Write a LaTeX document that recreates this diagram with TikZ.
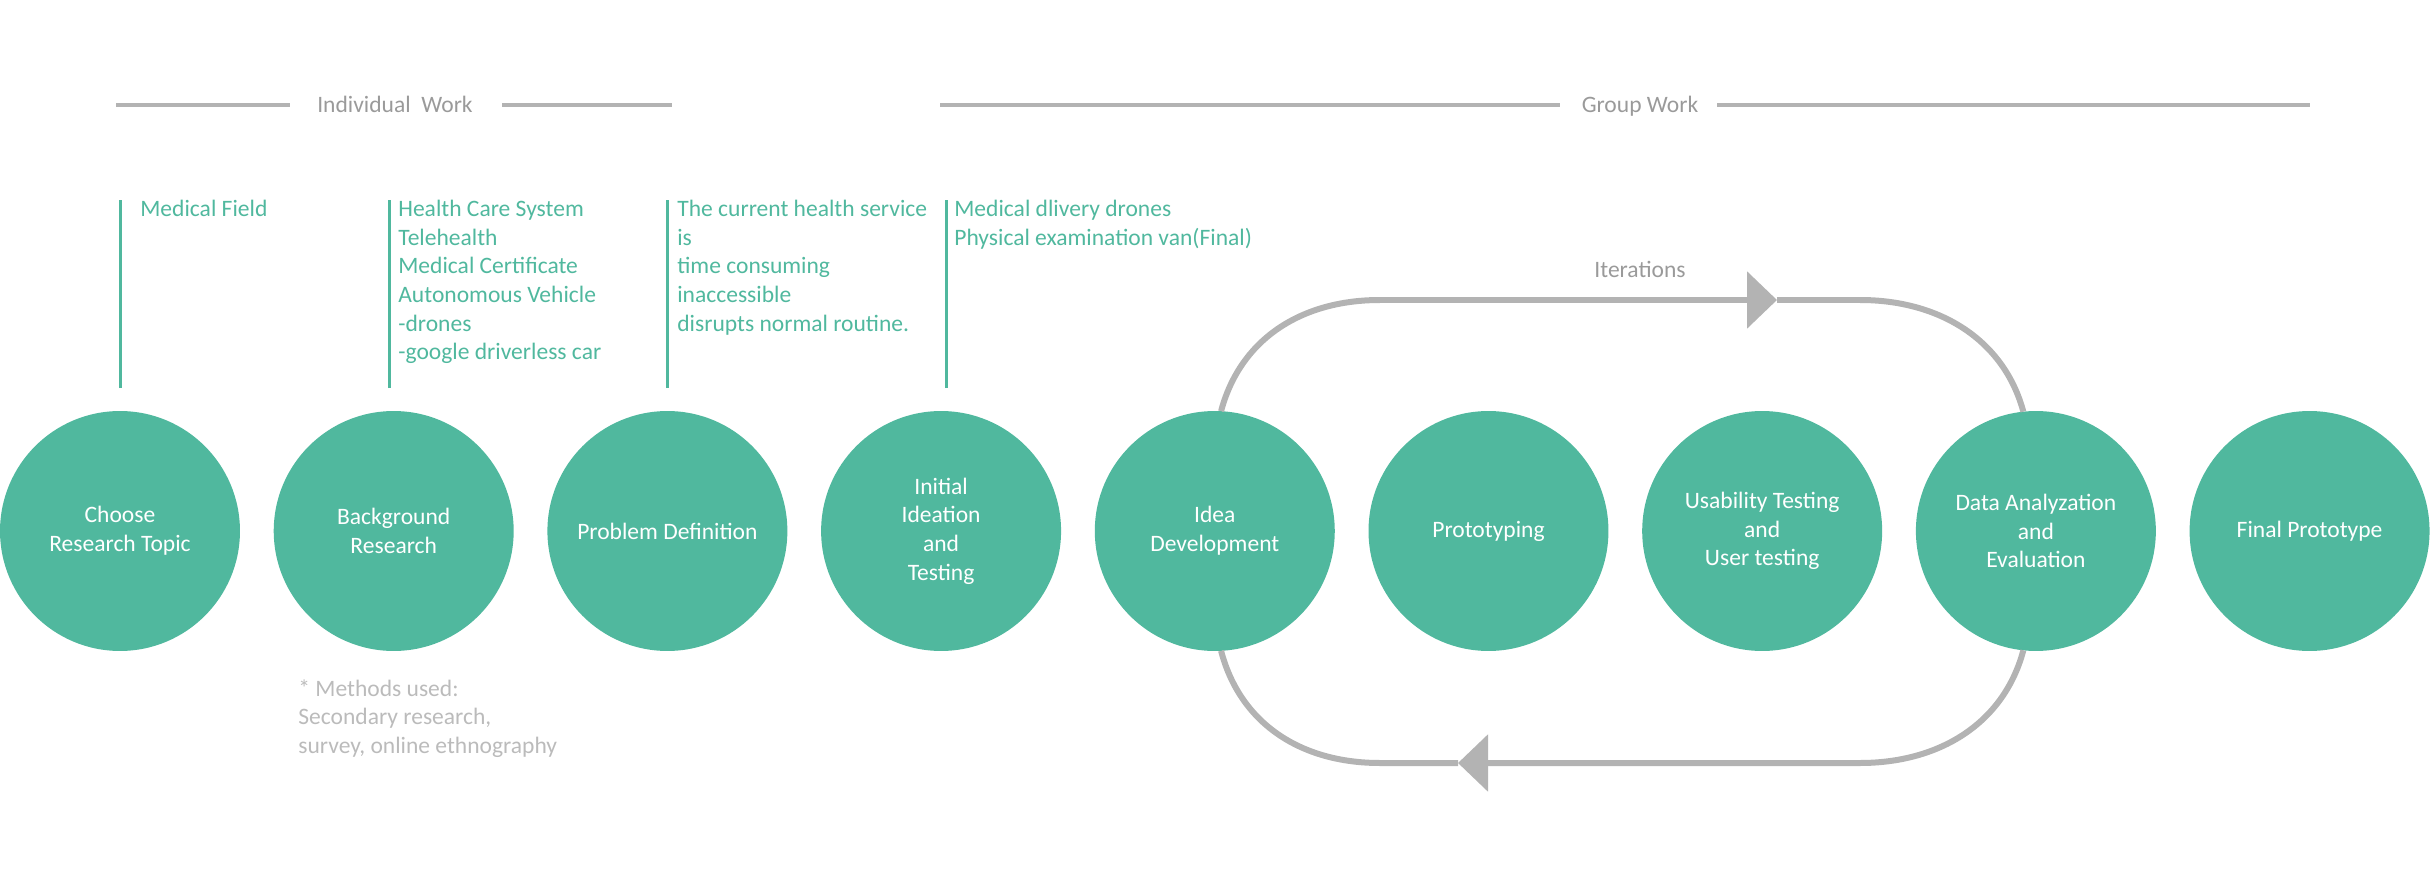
\documentclass[tikz,border=0pt]{standalone}
\usepackage{fontspec}
\setmainfont{Carlito}
\usetikzlibrary{arrows.meta,positioning}
\definecolor{stepgreen}{HTML}{50B89E}
\definecolor{loopgray}{HTML}{B3B3B3}
\definecolor{labelgray}{HTML}{9A9A9A}
\definecolor{methodgray}{HTML}{BBBBBB}

\begin{document}
\begin{tikzpicture}[
  x=0.02cm, y=0.02cm,
  font=\fontsize{13.4}{16.3}\selectfont,
  stagecircle/.style={circle, fill=stepgreen, text=white, align=center,
                      minimum size=4.8cm, inner sep=0pt, outer sep=0pt},
  notetext/.style={anchor=north west, align=left, inner sep=0pt, text=stepgreen},
  notebar/.style={stepgreen, line width=0.06cm},
  headrule/.style={loopgray, line width=0.08cm},
  headlabel/.style={anchor=base, inner sep=0pt, text=labelgray},
  looppath/.style={loopgray, line width=0.12cm},
  loophead/.style={-{Triangle[length=6mm, width=11.2mm]}},
  methodtext/.style={anchor=north west, align=left, inner sep=0pt, text=methodgray}]
\useasboundingbox (0,0) rectangle (2431,-885);
% the nine stages
\node[stagecircle] (choose) at (120,-531) {Choose\\Research Topic};
\node[stagecircle, right=6.75mm of choose]     (background) {Background\\Research};
\node[stagecircle, right=6.75mm of background] (problem)    {Problem Definition};
\node[stagecircle, right=6.75mm of problem]    (initial)    {Initial\\Ideation\\and\\Testing};
\node[stagecircle, right=6.75mm of initial]    (idea)       {Idea\\Development};
\node[stagecircle, right=6.75mm of idea]       (proto)      {Prototyping};
\node[stagecircle, right=6.75mm of proto]      (usability)  {Usability Testing\\and\\User testing};
\node[stagecircle, right=6.75mm of usability]  (data)       {Data Analyzation\\and\\Evaluation};
\node[stagecircle, right=6.75mm of data]       (final)      {Final Prototype};
% work phases
\node[headlabel] (indiv) at (395,-113)  {Individual\ \ Work};
\node[headlabel] (group) at (1640,-113) {Group Work};
\draw[headrule] (116,-105) -- (290,-105);
\draw[headrule] (502,-105) -- (672,-105);
\draw[headrule] (940,-105) -- (1560,-105);
\draw[headrule] (1717,-105) -- (2310,-105);
% notes above the first stages
\draw[notebar] (choose.north) ++(0,23) -- ++(0,188);
\draw[notebar] (background.north) ++(-4,23) -- ++(0,188);
\draw[notebar] (problem.north) ++(0,23) -- ++(0,188);
\draw[notebar] (initial.north) ++(5,23) -- ++(0,188);
\node[notetext] (fieldnote) at (140,-200) {Medical Field};
\node[notetext] (researchnote) at (398,-200)
  {Health Care System\\Telehealth\\Medical Certificate\\Autonomous Vehicle\\-drones\\-google driverless car};
\node[notetext] (problemnote) at (677,-200)
  {The current health service\\is\\time consuming\\inaccessible\\disrupts normal routine.};
\node[notetext] (ideanote) at (954,-200)
  {Medical dlivery drones\\Physical examination van(Final)};
\node[methodtext] (methods) at (298,-679)
  {* Methods used:\\Secondary research,\\survey, online ethnography};
% iteration loop
\node[headlabel] (iterlabel) at (1640,-277) {Iterations};
\coordinate (fwd)  at (1777,-300);
\coordinate (back) at (1458,-763);
\draw[looppath, loophead] (idea.87) .. controls (1240,-340) and (1300,-300) .. (1380,-300) -- (fwd);
\draw[looppath] (fwd) -- (1860,-300) .. controls (1940,-300) and (2004,-340) .. (data.96);
\draw[looppath, loophead] (data.-96) .. controls (2004,-723) and (1940,-763) .. (1860,-763) -- (back);
\draw[looppath] (back) -- (1380,-763) .. controls (1300,-763) and (1240,-723) .. (idea.-87);
\end{tikzpicture}
\end{document}
